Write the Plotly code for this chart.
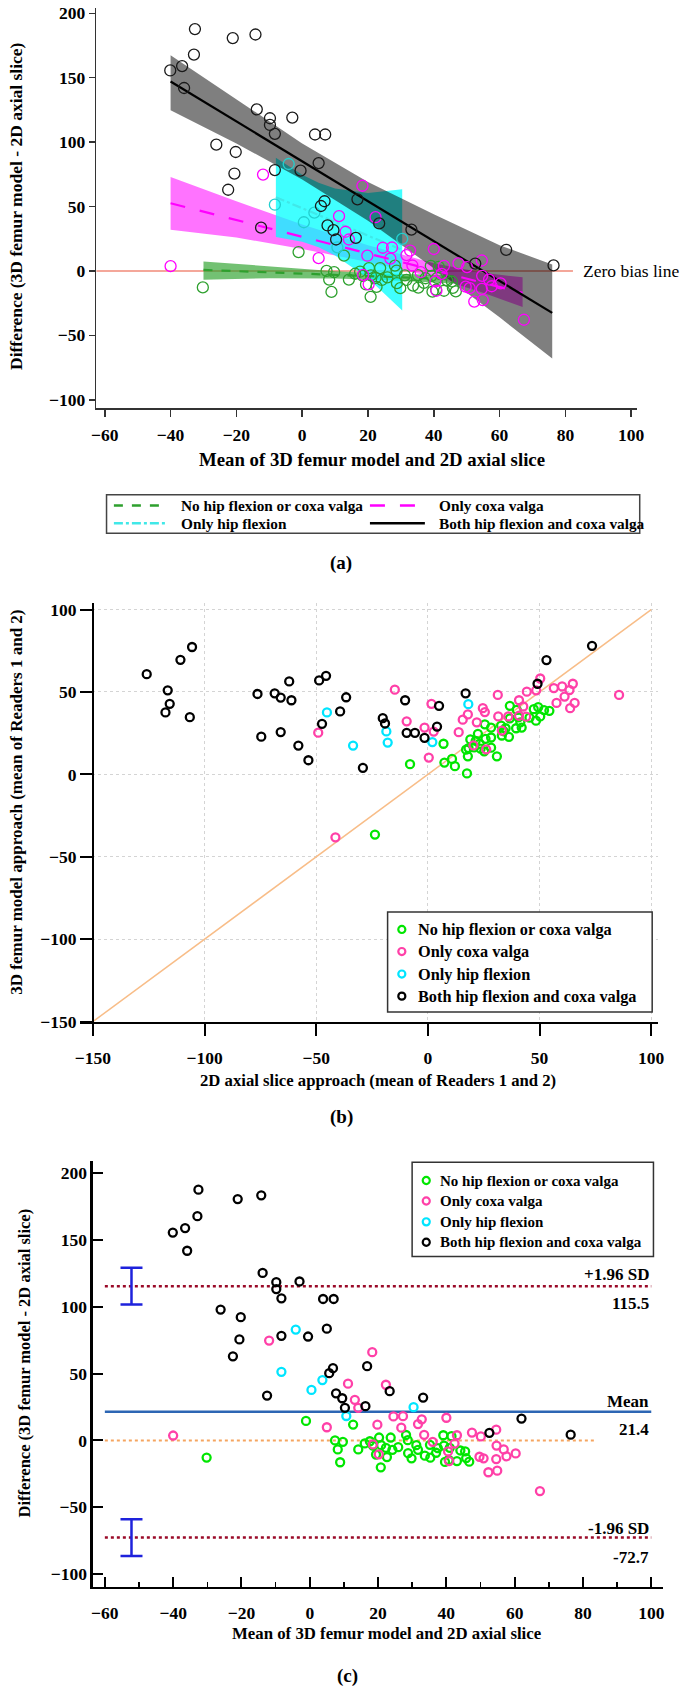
import plotly.graph_objects as go

W, H = 685, 1696
SERIF = "Liberation Serif"

# ---------------- Data: Bland-Altman (panels a and c) ----------------
labels = ["No hip flexion or coxa valga", "Only coxa valga", "Only hip flexion",
          "Both hip flexion and coxa valga"]

ba_none_mean = [-30.2, -1.1, 7.4, 9.7, 8.2, 8.9, 12.7, 14.2, 16.1, 17.6, 19.4, 20.3, 20.8, 18.5,
                23.7, 20.9, 22.3, 24.2, 25.9, 22.6, 28.2, 28.7, 31.2, 31.7, 28.8, 29.8, 33.7, 35.3,
                37.0, 35.2, 37.5, 39.1, 41.5, 39.3, 41.0, 39.6, 40.7, 44.1, 45.5, 43.1, 46.7, 45.8]
ba_none_diff = [-12.8, 14.6, 0.0, -1.0, -6.7, -16.3, 11.9, -6.7, -2.2, -0.6, -10.5, 2.2, -20.1, -3.8,
                2.2, -3.5, -5.5, -7.0, -5.0, -12.4, 4.1, 0.2, -3.5, -7.0, -9.5, -13.4, -11.4, -12.9,
                -9.2, -3.3, -5.7, 3.9, 3.2, -3.8, -5.5, -16.1, -14.6, -7.5, -8.2, -15.4, -15.9, -13.2]

ba_cv_mean = [-40.0, -11.9, 5.0, 11.2, 13.2, 14.2, 18.3, 18.5, 19.8, 20.2, 22.3, 24.5, 26.8, 27.3,
              31.7, 32.8, 33.5, 36.0, 40.0, 40.5, 40.8, 42.4, 43.1, 47.5, 49.7, 50.1, 50.9, 52.3,
              54.6, 54.6, 54.7, 54.9, 56.8, 57.6, 60.3, 67.4]
ba_cv_diff = [3.7, 74.8, 9.9, 42.5, 30.4, 24.4, 66.1, -3.0, 11.8, -10.4, 41.7, 18.0, 9.6, 18.2,
              12.3, 15.8, 4.2, -1.0, 17.0, -8.2, -15.4, -2.3, 3.9, 5.9, -12.2, 3.0, -13.4, -23.8,
              8.1, -13.9, -3.8, -22.6, -6.7, -11.9, -9.7, -37.9]

ba_hf_mean = [-8.3, -4.1, 0.5, 3.7, 10.7, 30.4]
ba_hf_diff = [51.4, 83.0, 37.8, 45.2, 18.3, 24.9]

ba_both_mean = [-40.1, -36.5, -35.9, -32.9, -32.6, -26.1, -22.5, -21.1, -20.6, -20.2, -14.2, -13.8,
                -12.5, -9.8, -9.8, -8.3, -8.3, -3.0, -0.5, 3.9, 5.0, 5.7, 6.8, 7.0, 7.7, 9.5, 10.3,
                16.3, 16.8, 23.4, 33.2, 52.6, 62.0, 76.4]
ba_both_diff = [155.6, 159.0, 142.0, 167.9, 187.7, 98.0, 63.0, 180.7, 75.6, 92.3, 183.5, 125.4,
                33.6, 118.5, 113.3, 106.4, 78.3, 119.0, 77.8, 105.9, 83.7, 50.4, 54.1, 105.9, 35.3,
                31.6, 24.4, 25.7, 55.6, 36.9, 32.1, 5.7, 16.4, 4.3]

# Panel (a) regression lines and confidence bands
fit_none_x = [-30, -10, 10, 25, 46]
fit_none_hi = [7.4, 3.4, -0.2, -2.0, -3.3]
fit_none_lo = [-6.9, -5.6, -5.8, -7.0, -9.7]
line_none_x = [-30, 46]
line_none_y = [0.8, -6.5]

fit_cv_x = [-40, -20, 0, 20, 40, 55, 67]
fit_cv_hi = [73, 54, 36, 20, 6, -1.5, -5]
fit_cv_lo = [32, 26, 17, 7, -5, -17, -28]
line_cv_x = [-40, 67]
line_cv_y = [52.5, -17.0]

fit_hf_x = [-8, 0, 5, 10, 20, 30.4]
fit_hf_hi = [87.9, 74.7, 68.4, 64.0, 60.4, 63.3]
fit_hf_lo = [26.4, 22.7, 18.4, 12.0, -5.6, -30.8]
line_hf_x = [-8, 30.4]
line_hf_y = [57.2, 16.3]

fit_both_x = [-40, -20, 0, 20, 40, 60, 76]
fit_both_hi = [167.4, 133, 99, 69, 44, 20, 5]
fit_both_lo = [124.8, 99, 71, 39, 2, -36, -68]
line_both_x = [-40, 76]
line_both_y = [147.0, -32.6]

zero_line_a_x = [-62.6, 82.3]

# Panel (c) limits of agreement
mean_diff = 21.4
upper_loa = 115.5
lower_loa = -72.7
loa_ci = 13.7
loa_ci_x = -52.2
zero_line_c_x = [-60, 83.3]
loa_line_x = [-60, 100]

# ---------------- Data: 2D vs 3D (panel b) ----------------
sc_none_2d = [7.0, -8.0, 7.4, 10.8, 12.1, 17.5, 17.9, 17.1, 19.0, 22.4, 20.7, 23.2, 25.5, 28.3, 25.8,
              28.3, 28.3, 25.2, 30.9, 32.8, 33.1, 34.8, 36.3, 36.7, 36.7, 39.5, 40.5, 42.0, 41.4,
              39.8, 45.5, 47.4, 49.4, 50.3, 48.4, 52.0, 54.4, 18.2, 21.4, 23.6, 33.9, -23.7]
sc_none_3d = [18.6, 6.2, 7.2, 9.4, 5.0, 0.6, 11.0, 15.0, 21.2, 24.6, 16.4, 18.6, 30.4, 28.4, 21.6,
              22.4, 16.2, 14.0, 11.0, 29.6, 23.6, 28.0, 22.8, 41.6, 34.0, 28.0, 34.6, 28.4, 31.6,
              39.2, 34.4, 39.6, 40.8, 35.2, 32.6, 39.0, 38.6, 16.0, 20.4, 15.6, 26.2, -36.5]

sc_cv_2d = [-49.1, -14.8, -41.4, 1.6, -9.5, -1.5, 2.6, 0.4, 13.8, 15.6, 17.9, 24.6, 25.5, 21.9,
            31.3, 31.5, 36.0, 40.8, 44.3, 48.5, 50.3, 40.8, 44.0, 42.7, 56.4, 60.1, 64.9, 63.4,
            61.2, 57.6, 65.7, 63.7, 85.6, 20.4, 26.1, 33.1]
sc_cv_3d = [25.3, 51.4, -38.2, 42.8, 32.2, 28.4, 26.0, 10.2, 25.6, 33.2, 36.4, 40.2, 37.8, 31.6,
            48.2, 35.2, 35.2, 45.0, 50.2, 51.0, 58.2, 35.6, 35.0, 41.2, 52.4, 53.4, 55.0, 51.2,
            47.2, 43.4, 43.4, 40.2, 48.2, 17.6, 15.2, 26.6]

sc_hf_2d = [-45.2, -33.5, -18.6, -18.0, 2.0, 18.1]
sc_hf_3d = [37.6, 17.5, 26.1, 19.3, 19.6, 42.6]

sc_both_2d = [-125.9, -110.8, -105.6, -116.5, -115.6, -117.5, -106.6, -76.3, -68.6, -65.9, -61.1,
              -62.1, -48.7, -45.6, -74.6, -65.9, -58.0, -53.5, -47.4, -39.3, -36.6, -29.1, -20.2,
              -19.2, -10.2, 5.0, 4.1, -9.5, -5.8, -1.5, 16.9, 49.1, 53.1, 73.5]
sc_both_3d = [60.8, 69.5, 77.3, 51.0, 42.8, 37.6, 34.7, 48.8, 49.2, 46.6, 45.0, 56.4, 57.0, 59.8,
              22.9, 25.7, 17.5, 8.6, 30.7, 38.2, 46.8, 4.0, 34.1, 30.9, 45.0, 41.6, 29.0, 25.2,
              25.2, 22.2, 49.2, 55.0, 69.4, 78.0]
identity_line = [-150, 100]

# ---------------- Styles ----------------
col_a = ["#2ea02e", "#ff00ff", "#22d0d0", "#1a1a1a"]
band_a = ["rgba(40,160,40,0.65)", "rgba(255,0,255,0.55)", "rgba(0,255,255,0.75)", "rgba(0,0,0,0.5)"]
col_bc = ["#00e600", "#ff40a8", "#00e5ff", "#000000"]


def px(x):
    return x / W


def py(y):
    return 1 - y / H


fig = go.Figure()

# ---------------- Panel (a) ----------------
fig.add_trace(go.Scatter(x=zero_line_a_x, y=[0, 0], mode="lines",
                         line=dict(color="#f08a78", width=1.5), xaxis="x", yaxis="y",
                         hoverinfo="skip"))
bands = [(fit_cv_x, fit_cv_hi, fit_cv_lo, band_a[1]),
         (fit_none_x, fit_none_hi, fit_none_lo, band_a[0]),
         (fit_hf_x, fit_hf_hi, fit_hf_lo, band_a[2]),
         (fit_both_x, fit_both_hi, fit_both_lo, band_a[3])]
for bx, bh, bl, bc in bands:
    fig.add_trace(go.Scatter(x=list(bx) + list(bx)[::-1], y=list(bh) + list(bl)[::-1],
                             fill="toself", fillcolor=bc, mode="lines", line=dict(width=0),
                             xaxis="x", yaxis="y", hoverinfo="skip"))
reglines = [(line_none_x, line_none_y, col_a[0], "dash"),
            (line_cv_x, line_cv_y, col_a[1], "longdash"),
            (line_hf_x, line_hf_y, "#40e8e8", "dashdot"),
            (line_both_x, line_both_y, "#000000", "solid")]
for lx, ly, lc, ld in reglines:
    fig.add_trace(go.Scatter(x=lx, y=ly, mode="lines", line=dict(color=lc, width=2.2, dash=ld),
                             xaxis="x", yaxis="y"))
groups_ba = [(ba_none_mean, ba_none_diff), (ba_cv_mean, ba_cv_diff),
             (ba_hf_mean, ba_hf_diff), (ba_both_mean, ba_both_diff)]
for i, (mx, dy) in enumerate(groups_ba):
    fig.add_trace(go.Scatter(x=mx, y=dy, mode="markers", name=labels[i],
                             marker=dict(symbol="circle-open", size=11, color=col_a[i],
                                         line=dict(width=1.3, color=col_a[i])),
                             xaxis="x", yaxis="y"))

# ---------------- Panel (b) ----------------
fig.add_trace(go.Scatter(x=identity_line, y=identity_line, mode="lines",
                         line=dict(color="#f8bd88", width=1.5), xaxis="x2", yaxis="y2",
                         hoverinfo="skip"))
groups_sc = [(sc_none_2d, sc_none_3d), (sc_cv_2d, sc_cv_3d), (sc_hf_2d, sc_hf_3d),
             (sc_both_2d, sc_both_3d)]
for i, (sx, sy) in enumerate(groups_sc):
    fig.add_trace(go.Scatter(x=sx, y=sy, mode="markers", name=labels[i],
                             marker=dict(symbol="circle-open", size=8, color=col_bc[i],
                                         line=dict(width=2.3, color=col_bc[i])),
                             xaxis="x2", yaxis="y2"))

# ---------------- Panel (c) ----------------
fig.add_trace(go.Scatter(x=zero_line_c_x, y=[0, 0], mode="lines",
                         line=dict(color="#f5a560", width=2, dash="dot"), xaxis="x3", yaxis="y3"))
fig.add_trace(go.Scatter(x=loa_line_x, y=[mean_diff, mean_diff], mode="lines",
                         line=dict(color="#2c66b4", width=2.5), xaxis="x3", yaxis="y3"))
for v in (upper_loa, lower_loa):
    fig.add_trace(go.Scatter(x=loa_line_x, y=[v, v], mode="lines",
                             line=dict(color="#9a0a28", width=2.5, dash="dot"),
                             xaxis="x3", yaxis="y3"))
fig.add_trace(go.Scatter(x=[loa_ci_x, loa_ci_x], y=[upper_loa, lower_loa], mode="markers",
                         marker=dict(size=1, opacity=0),
                         error_y=dict(type="data", array=[loa_ci, loa_ci], width=11,
                                      thickness=2.5, color="#1e22dc"),
                         xaxis="x3", yaxis="y3"))
for i, (mx, dy) in enumerate(groups_ba):
    fig.add_trace(go.Scatter(x=mx, y=dy, mode="markers", name=labels[i],
                             marker=dict(symbol="circle-open", size=8, color=col_bc[i],
                                         line=dict(width=2.3, color=col_bc[i])),
                             xaxis="x3", yaxis="y3"))

# ---------------- Axes ----------------
tf = dict(family=SERIF, size=17.5, color="black", weight="bold")
common = dict(showgrid=False, zeroline=False, showline=True, tickfont=tf)

fig.update_layout(
    width=W, height=H, margin=dict(l=0, r=0, t=0, b=0),
    paper_bgcolor="white", plot_bgcolor="white", showlegend=False, hovermode=False,
    font=dict(family=SERIF, color="black"),
    xaxis=dict(domain=[px(93), px(644)], range=[-62.6, 101.7], anchor="y",
               tickvals=list(range(-60, 101, 20)), ticks="outside", ticklen=7, tickwidth=1.5,
               tickcolor="#333", linecolor="#333", linewidth=1.5, ticklabelstandoff=3, **common),
    yaxis=dict(domain=[py(407), py(3)], range=[-106.7, 204.1], anchor="x",
               tickvals=list(range(-100, 201, 50)), ticks="outside", ticklen=6, tickwidth=1.5,
               tickcolor="#333", linecolor="#333", linewidth=1.5, **common),
    xaxis2=dict(domain=[px(76), px(666)], range=[-155.97, 103.2], anchor="y2",
                tickvals=[-150, -100, -50, 0, 50, 100], ticks="outside", ticklen=12, tickwidth=2,
                tickcolor="black", linecolor="black", linewidth=2.5, ticklabelstandoff=7,
                showgrid=True, gridcolor="#d4d4d4", griddash="dot", gridwidth=1,
                zeroline=False, showline=True, tickfont=tf),
    yaxis2=dict(domain=[py(1025.7), py(603)], range=[-150, 104.2], anchor="free",
                position=px(89.6), tickvals=[-150, -100, -50, 0, 50, 100], ticks="outside",
                ticklen=12, tickwidth=2, tickcolor="black", linecolor="black", linewidth=2.5,
                showgrid=True, gridcolor="#d4d4d4", griddash="dot", gridwidth=1,
                zeroline=False, showline=True, tickfont=tf),
    xaxis3=dict(domain=[px(89.6), px(670.6)], range=[-63.5, 103.4], anchor="y3",
                tickvals=list(range(-60, 101, 20)), ticks="inside", ticklen=10, tickwidth=2,
                tickcolor="black", linecolor="black", linewidth=2.5, ticklabelstandoff=9,
                minor=dict(ticks="inside", ticklen=5, tickwidth=1.5, dtick=10, tick0=0,
                           tickcolor="black"),
                **common),
    yaxis3=dict(domain=[py(1596), py(1166.7)], range=[-109.6, 208.9], anchor="x3",
                tickvals=list(range(-100, 201, 50)), ticks="inside", ticklen=10, tickwidth=2,
                tickcolor="black", linecolor="black", linewidth=2.5, **common),
)

# ---------------- Annotations & legend boxes ----------------
ann = []
shapes = []


def text(x, y, s, size, bold=True, anchor="center", angle=0):
    ann.append(dict(x=px(x), y=py(y), xref="paper", yref="paper", text=s, showarrow=False,
                    xanchor=anchor, yanchor="middle", textangle=angle,
                    font=dict(family=SERIF, size=size, color="black",
                              weight="bold" if bold else "normal")))


# Panel (a)
text(374, 459, "Mean of 3D femur model and 2D axial slice", 18.8)
text(11, 203, "Difference (3D femur model - 2D axial slice)", 17.5, angle=-90)
text(587, 268.3, "Zero bias line", 17.5, bold=False, anchor="left")
text(342, 563, "(a)", 19)
shapes.append(dict(type="rect", xref="paper", yref="paper", x0=px(103.5), x1=px(647),
                   y0=py(533), y1=py(494), line=dict(color="#444", width=1.5)))
leg_a = [(111, 166, 505, col_a[0], "dash", labels[0], 177),
         (372, 428, 505, col_a[1], "longdash", labels[1], 440),
         (111, 166, 523, "#40e8e8", "dashdot", labels[2], 177),
         (372, 428, 523, "#000000", "solid", labels[3], 440)]
for x0, x1, yy, c, d, lab, tx in leg_a:
    shapes.append(dict(type="line", xref="paper", yref="paper", x0=px(x0), x1=px(x1),
                       y0=py(yy), y1=py(yy), line=dict(color=c, width=2.5, dash=d)))
    text(tx, yy, lab, 15.3, anchor="left")

# Panel (b)
text(380, 1085, "2D axial slice approach (mean of Readers 1 and 2)", 16.7)
text(12, 804, "3D femur model approach (mean of Readers 1 and 2)", 17, angle=-90)
text(343, 1121.7, "(b)", 19)
shapes.append(dict(type="rect", xref="paper", yref="paper", x0=px(390), x1=px(659.7),
                   y0=py(1016), y1=py(915), line=dict(color="#333", width=1.5),
                   fillcolor="white", layer="above"))
for i, yy in enumerate([932.7, 955, 977.7, 1000]):
    r = 3.6
    shapes.append(dict(type="circle", xref="paper", yref="paper", x0=px(404.5 - r),
                       x1=px(404.5 + r), y0=py(yy + r), y1=py(yy - r),
                       line=dict(color=col_bc[i], width=2.2)))
    text(418.5, yy, labels[i], 16.3, anchor="left")

# Panel (c)
text(389, 1642.7, "Mean of 3D femur model and 2D axial slice", 16.8)
text(20, 1370, "Difference (3D femur model - 2D axial slice)", 16.5, angle=-90)
text(349.5, 1686, "(c)", 19)
text(659, 1281, "+1.96 SD", 17, anchor="right")
text(659, 1310, f"{upper_loa}", 17, anchor="right")
text(659, 1409, "Mean", 17, anchor="right")
text(659, 1437.7, f"{mean_diff}", 17, anchor="right")
text(659, 1536.7, "-1.96 SD", 17, anchor="right")
text(659, 1566, f"{lower_loa}", 17, anchor="right")
shapes.append(dict(type="rect", xref="paper", yref="paper", x0=px(415), x1=px(661),
                   y0=py(1262.7), y1=py(1167.7), line=dict(color="#333", width=1.5),
                   fillcolor="white", layer="above"))
for i, yy in enumerate([1186, 1206.7, 1227.7, 1248.3]):
    r = 3.6
    shapes.append(dict(type="circle", xref="paper", yref="paper", x0=px(429.4 - r),
                       x1=px(429.4 + r), y0=py(yy + r), y1=py(yy - r),
                       line=dict(color=col_bc[i], width=2.2)))
    text(441, yy, labels[i], 15, anchor="left")

fig.update_layout(annotations=ann, shapes=shapes)
fig.write_html("out.html", config={"staticPlot": True, "displayModeBar": False},
               post_script="document.body.style.margin='0';"
                           "document.documentElement.style.overflow='hidden';")
